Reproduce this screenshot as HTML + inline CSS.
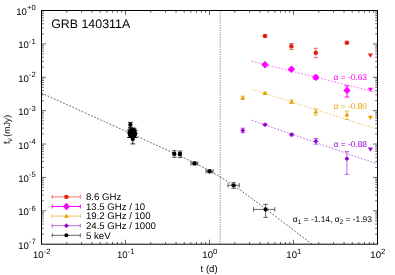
<!DOCTYPE html>
<html><head><meta charset="utf-8"><title>GRB 140311A</title>
<style>html,body{margin:0;padding:0;background:#fff;overflow:hidden}body{width:395px;height:275px;position:relative;font-family:"Liberation Sans",sans-serif}</style>
</head><body>
<svg width="395" height="275" viewBox="0 0 395 275" style="position:absolute;left:0;top:0;will-change:transform;text-rendering:geometricPrecision" font-family="'Liberation Sans', sans-serif">
<rect x="0" y="0" width="395" height="275" fill="#ffffff"/>
<path d="M66.79 244.2v-2.3M66.79 10.5v2.3M81.58 244.2v-2.3M81.58 10.5v2.3M92.07 244.2v-2.3M92.07 10.5v2.3M100.21 244.2v-2.3M100.21 10.5v2.3M106.86 244.2v-2.3M106.86 10.5v2.3M112.49 244.2v-2.3M112.49 10.5v2.3M117.36 244.2v-2.3M117.36 10.5v2.3M121.66 244.2v-2.3M121.66 10.5v2.3M125.50 244.2v-4.5M125.50 10.5v4.5M150.79 244.2v-2.3M150.79 10.5v2.3M165.58 244.2v-2.3M165.58 10.5v2.3M176.07 244.2v-2.3M176.07 10.5v2.3M184.21 244.2v-2.3M184.21 10.5v2.3M190.86 244.2v-2.3M190.86 10.5v2.3M196.49 244.2v-2.3M196.49 10.5v2.3M201.36 244.2v-2.3M201.36 10.5v2.3M205.66 244.2v-2.3M205.66 10.5v2.3M209.50 244.2v-4.5M209.50 10.5v4.5M234.79 244.2v-2.3M234.79 10.5v2.3M249.58 244.2v-2.3M249.58 10.5v2.3M260.07 244.2v-2.3M260.07 10.5v2.3M268.21 244.2v-2.3M268.21 10.5v2.3M274.86 244.2v-2.3M274.86 10.5v2.3M280.49 244.2v-2.3M280.49 10.5v2.3M285.36 244.2v-2.3M285.36 10.5v2.3M289.66 244.2v-2.3M289.66 10.5v2.3M293.50 244.2v-4.5M293.50 10.5v4.5M318.79 244.2v-2.3M318.79 10.5v2.3M333.58 244.2v-2.3M333.58 10.5v2.3M344.07 244.2v-2.3M344.07 10.5v2.3M352.21 244.2v-2.3M352.21 10.5v2.3M358.86 244.2v-2.3M358.86 10.5v2.3M364.49 244.2v-2.3M364.49 10.5v2.3M369.36 244.2v-2.3M369.36 10.5v2.3M373.66 244.2v-2.3M373.66 10.5v2.3M41.5 234.15h2.3M377.5 234.15h-2.3M41.5 228.27h2.3M377.5 228.27h-2.3M41.5 224.10h2.3M377.5 224.10h-2.3M41.5 220.86h2.3M377.5 220.86h-2.3M41.5 218.22h2.3M377.5 218.22h-2.3M41.5 215.99h2.3M377.5 215.99h-2.3M41.5 214.05h2.3M377.5 214.05h-2.3M41.5 212.34h2.3M377.5 212.34h-2.3M41.5 210.81h4.5M377.5 210.81h-4.5M41.5 200.76h2.3M377.5 200.76h-2.3M41.5 194.89h2.3M377.5 194.89h-2.3M41.5 190.71h2.3M377.5 190.71h-2.3M41.5 187.48h2.3M377.5 187.48h-2.3M41.5 184.84h2.3M377.5 184.84h-2.3M41.5 182.60h2.3M377.5 182.60h-2.3M41.5 180.66h2.3M377.5 180.66h-2.3M41.5 178.96h2.3M377.5 178.96h-2.3M41.5 177.43h4.5M377.5 177.43h-4.5M41.5 167.38h2.3M377.5 167.38h-2.3M41.5 161.50h2.3M377.5 161.50h-2.3M41.5 157.33h2.3M377.5 157.33h-2.3M41.5 154.09h2.3M377.5 154.09h-2.3M41.5 151.45h2.3M377.5 151.45h-2.3M41.5 149.21h2.3M377.5 149.21h-2.3M41.5 147.28h2.3M377.5 147.28h-2.3M41.5 145.57h2.3M377.5 145.57h-2.3M41.5 144.04h4.5M377.5 144.04h-4.5M41.5 133.99h2.3M377.5 133.99h-2.3M41.5 128.11h2.3M377.5 128.11h-2.3M41.5 123.94h2.3M377.5 123.94h-2.3M41.5 120.71h2.3M377.5 120.71h-2.3M41.5 118.06h2.3M377.5 118.06h-2.3M41.5 115.83h2.3M377.5 115.83h-2.3M41.5 113.89h2.3M377.5 113.89h-2.3M41.5 112.18h2.3M377.5 112.18h-2.3M41.5 110.66h4.5M377.5 110.66h-4.5M41.5 100.61h2.3M377.5 100.61h-2.3M41.5 94.73h2.3M377.5 94.73h-2.3M41.5 90.56h2.3M377.5 90.56h-2.3M41.5 87.32h2.3M377.5 87.32h-2.3M41.5 84.68h2.3M377.5 84.68h-2.3M41.5 82.44h2.3M377.5 82.44h-2.3M41.5 80.51h2.3M377.5 80.51h-2.3M41.5 78.80h2.3M377.5 78.80h-2.3M41.5 77.27h4.5M377.5 77.27h-4.5M41.5 67.22h2.3M377.5 67.22h-2.3M41.5 61.34h2.3M377.5 61.34h-2.3M41.5 57.17h2.3M377.5 57.17h-2.3M41.5 53.94h2.3M377.5 53.94h-2.3M41.5 51.29h2.3M377.5 51.29h-2.3M41.5 49.06h2.3M377.5 49.06h-2.3M41.5 47.12h2.3M377.5 47.12h-2.3M41.5 45.41h2.3M377.5 45.41h-2.3M41.5 43.89h4.5M377.5 43.89h-4.5M41.5 33.84h2.3M377.5 33.84h-2.3M41.5 27.96h2.3M377.5 27.96h-2.3M41.5 23.79h2.3M377.5 23.79h-2.3M41.5 20.55h2.3M377.5 20.55h-2.3M41.5 17.91h2.3M377.5 17.91h-2.3M41.5 15.67h2.3M377.5 15.67h-2.3M41.5 13.74h2.3M377.5 13.74h-2.3M41.5 12.03h2.3M377.5 12.03h-2.3" stroke="#000" stroke-width="0.6" fill="none"/>
<line x1="220.2" y1="10.5" x2="220.2" y2="244.2" stroke="#000" stroke-width="0.5" stroke-dasharray="1.2 1.2"/>
<path d="M41.50 93.07L42.50 93.52L43.50 93.98L44.50 94.43L45.50 94.88L46.50 95.34L47.50 95.79L48.50 96.24L49.50 96.69L50.50 97.15L51.50 97.60L52.50 98.05L53.50 98.51L54.50 98.96L55.50 99.41L56.50 99.87L57.50 100.32L58.50 100.77L59.50 101.23L60.50 101.68L61.50 102.13L62.50 102.58L63.50 103.04L64.50 103.49L65.50 103.94L66.50 104.40L67.50 104.85L68.50 105.30L69.50 105.76L70.50 106.21L71.50 106.66L72.50 107.12L73.50 107.57L74.50 108.02L75.50 108.48L76.50 108.93L77.50 109.38L78.50 109.83L79.50 110.29L80.50 110.74L81.50 111.19L82.50 111.65L83.50 112.10L84.50 112.55L85.50 113.01L86.50 113.46L87.50 113.91L88.50 114.37L89.50 114.82L90.50 115.27L91.50 115.73L92.50 116.18L93.50 116.63L94.50 117.08L95.50 117.54L96.50 117.99L97.50 118.44L98.50 118.90L99.50 119.35L100.50 119.80L101.50 120.26L102.50 120.71L103.50 121.16L104.50 121.62L105.50 122.07L106.50 122.52L107.50 122.98L108.50 123.43L109.50 123.88L110.50 124.33L111.50 124.79L112.50 125.24L113.50 125.69L114.50 126.15L115.50 126.60L116.50 127.05L117.50 127.51L118.50 127.96L119.50 128.41L120.50 128.87L121.50 129.32L122.50 129.77L123.50 130.23L124.50 130.68L125.50 131.13L126.50 131.59L127.50 132.04L128.50 132.49L129.50 132.95L130.50 133.40L131.50 133.86L132.50 134.31L133.50 134.76L134.50 135.22L135.50 135.67L136.50 136.12L137.50 136.58L138.50 137.03L139.50 137.49L140.50 137.94L141.50 138.39L142.50 138.85L143.50 139.30L144.50 139.76L145.50 140.21L146.50 140.67L147.50 141.12L148.50 141.58L149.50 142.03L150.50 142.49L151.50 142.94L152.50 143.40L153.50 143.85L154.50 144.31L155.50 144.76L156.50 145.22L157.50 145.68L158.50 146.13L159.50 146.59L160.50 147.05L161.50 147.50L162.50 147.96L163.50 148.42L164.50 148.88L165.50 149.34L166.50 149.80L167.50 150.25L168.50 150.71L169.50 151.18L170.50 151.64L171.50 152.10L172.50 152.56L173.50 153.02L174.50 153.49L175.50 153.95L176.50 154.42L177.50 154.88L178.50 155.35L179.50 155.82L180.50 156.29L181.50 156.76L182.50 157.23L183.50 157.70L184.50 158.17L185.50 158.65L186.50 159.13L187.50 159.61L188.50 160.09L189.50 160.57L190.50 161.05L191.50 161.54L192.50 162.03L193.50 162.52L194.50 163.01L195.50 163.50L196.50 164.00L197.50 164.50L198.50 165.01L199.50 165.51L200.50 166.03L201.50 166.54L202.50 167.06L203.50 167.58L204.50 168.10L205.50 168.63L206.50 169.16L207.50 169.70L208.50 170.24L209.50 170.79L210.50 171.34L211.50 171.90L212.50 172.46L213.50 173.03L214.50 173.60L215.50 174.17L216.50 174.76L217.50 175.34L218.50 175.94L219.50 176.54L220.50 177.14L221.50 177.75L222.50 178.37L223.50 178.99L224.50 179.62L225.50 180.25L226.50 180.89L227.50 181.53L228.50 182.18L229.50 182.83L230.50 183.49L231.50 184.15L232.50 184.82L233.50 185.50L234.50 186.17L235.50 186.86L236.50 187.54L237.50 188.23L238.50 188.93L239.50 189.63L240.50 190.33L241.50 191.04L242.50 191.75L243.50 192.46L244.50 193.18L245.50 193.90L246.50 194.62L247.50 195.34L248.50 196.07L249.50 196.80L250.50 197.53L251.50 198.27L252.50 199.00L253.50 199.74L254.50 200.48L255.50 201.22L256.50 201.97L257.50 202.71L258.50 203.46L259.50 204.20L260.50 204.95L261.50 205.70L262.50 206.45L263.50 207.21L264.50 207.96L265.50 208.71L266.50 209.47L267.50 210.22L268.50 210.98L269.50 211.74L270.50 212.50L271.50 213.25L272.50 214.01L273.50 214.77L274.50 215.53L275.50 216.29L276.50 217.06L277.50 217.82L278.50 218.58L279.50 219.34L280.50 220.10L281.50 220.87L282.50 221.63L283.50 222.39L284.50 223.16L285.50 223.92L286.50 224.68L287.50 225.45L288.50 226.21L289.50 226.98L290.50 227.74L291.50 228.51L292.50 229.27L293.50 230.04L294.50 230.80L295.50 231.57L296.50 232.33L297.50 233.10L298.50 233.87L299.50 234.63L300.50 235.40L301.50 236.16L302.50 236.93L303.50 237.70L304.50 238.46L305.50 239.23L306.50 239.99L307.50 240.76L308.50 241.53L309.50 242.29L310.50 243.06L311.50 243.83L311.99 244.20" stroke="#000" stroke-width="0.7" stroke-dasharray="1.7 1.7" fill="none"/>
<line x1="251.80" y1="61.20" x2="377.50" y2="92.67" stroke="#ff00ff" stroke-width="0.6" stroke-dasharray="1.7 1.7"/>
<line x1="251.80" y1="89.30" x2="377.50" y2="129.27" stroke="#e69f00" stroke-width="0.6" stroke-dasharray="1.7 1.7"/>
<line x1="251.80" y1="120.20" x2="377.50" y2="164.16" stroke="#9400d3" stroke-width="0.6" stroke-dasharray="1.7 1.7"/>
<path d="M265.0 35.2V36.8M262.7 35.2h4.6M262.7 36.8h4.6" stroke="#e51e10" stroke-width="0.6" fill="none"/>
<circle cx="265.0" cy="36.0" r="2.2" fill="#e51e10"/>
<path d="M291.4 43.5V49.5M289.09999999999997 43.5h4.6M289.09999999999997 49.5h4.6" stroke="#e51e10" stroke-width="0.6" fill="none"/>
<circle cx="291.4" cy="46.3" r="2.2" fill="#e51e10"/>
<path d="M315.8 48.300000000000004V57.7M313.5 48.300000000000004h4.6M313.5 57.7h4.6" stroke="#e51e10" stroke-width="0.6" fill="none"/>
<circle cx="315.8" cy="52.7" r="2.2" fill="#e51e10"/>
<path d="M346.9 41.800000000000004V43.6M344.59999999999997 41.800000000000004h4.6M344.59999999999997 43.6h4.6" stroke="#e51e10" stroke-width="0.6" fill="none"/>
<circle cx="346.9" cy="42.7" r="2.2" fill="#e51e10"/>
<path d="M370.4 57.8L372.9 53.55L367.9 53.55Z" fill="#e51e10"/>
<path d="M265.0 61.0L268.7 64.7L265.0 68.4L261.3 64.7Z" fill="#ff00ff"/>
<path d="M291.4 65.5L295.09999999999997 69.2L291.4 72.9L287.7 69.2Z" fill="#ff00ff"/>
<path d="M315.8 75.4V79.4M313.5 75.4h4.6M313.5 79.4h4.6" stroke="#ff00ff" stroke-width="1.0" fill="none"/>
<path d="M315.8 73.7L319.5 77.4L315.8 81.10000000000001L312.1 77.4Z" fill="#ff00ff"/>
<path d="M347.0 85.8V97.0M344.7 85.8h4.6M344.7 97.0h4.6" stroke="#ff00ff" stroke-width="1.0" fill="none"/>
<path d="M347.0 86.7L350.7 90.4L347.0 94.10000000000001L343.3 90.4Z" fill="#ff00ff"/>
<path d="M370.4 92.0L372.9 87.75L367.9 87.75Z" fill="#ff00ff"/>
<path d="M242.8 96.2V99.3M240.5 96.2h4.6M240.5 99.3h4.6" stroke="#e69f00" stroke-width="0.6" fill="none"/>
<path d="M242.8 95.3L245.20000000000002 99.38000000000001L240.4 99.38000000000001Z" fill="#e69f00"/>
<path d="M265.1 92.3V94.10000000000001M262.8 92.3h4.6M262.8 94.10000000000001h4.6" stroke="#e69f00" stroke-width="0.6" fill="none"/>
<path d="M265.1 90.8L267.5 94.88000000000001L262.70000000000005 94.88000000000001Z" fill="#e69f00"/>
<path d="M291.6 99.9V103.5M289.3 99.9h4.6M289.3 103.5h4.6" stroke="#e69f00" stroke-width="0.6" fill="none"/>
<path d="M291.6 99.3L294.0 103.38000000000001L289.20000000000005 103.38000000000001Z" fill="#e69f00"/>
<path d="M315.8 108.89999999999999V115.39999999999999M313.5 108.89999999999999h4.6M313.5 115.39999999999999h4.6" stroke="#e69f00" stroke-width="0.6" fill="none"/>
<path d="M315.8 109.39999999999999L318.2 113.48L313.40000000000003 113.48Z" fill="#e69f00"/>
<path d="M346.9 111.0V119.5M344.59999999999997 111.0h4.6M344.59999999999997 119.5h4.6" stroke="#e69f00" stroke-width="0.6" fill="none"/>
<path d="M346.9 112.3L349.29999999999995 116.38000000000001L344.5 116.38000000000001Z" fill="#e69f00"/>
<path d="M370.4 120.0L372.9 115.75L367.9 115.75Z" fill="#e69f00"/>
<path d="M242.8 128.2V132.8M240.5 128.2h4.6M240.5 132.8h4.6" stroke="#9400d3" stroke-width="0.6" fill="none"/>
<path d="M242.8 128.1L245.20000000000002 130.5L242.8 132.9L240.4 130.5Z" fill="#9400d3"/>
<path d="M265.1 123.9V125.5M262.8 123.9h4.6M262.8 125.5h4.6" stroke="#9400d3" stroke-width="0.6" fill="none"/>
<path d="M265.1 122.3L267.5 124.7L265.1 127.10000000000001L262.70000000000005 124.7Z" fill="#9400d3"/>
<path d="M291.6 133.4V135.79999999999998M289.3 133.4h4.6M289.3 135.79999999999998h4.6" stroke="#9400d3" stroke-width="0.6" fill="none"/>
<path d="M291.6 132.2L294.0 134.6L291.6 137.0L289.20000000000005 134.6Z" fill="#9400d3"/>
<path d="M315.9 138.5V144.2M313.59999999999997 138.5h4.6M313.59999999999997 144.2h4.6" stroke="#9400d3" stroke-width="0.6" fill="none"/>
<path d="M315.9 138.79999999999998L318.29999999999995 141.2L315.9 143.6L313.5 141.2Z" fill="#9400d3"/>
<path d="M346.9 151.6V174.39999999999998M344.59999999999997 151.6h4.6M344.59999999999997 174.39999999999998h4.6" stroke="#9400d3" stroke-width="0.6" fill="none"/>
<path d="M346.9 156.29999999999998L349.29999999999995 158.7L346.9 161.1L344.5 158.7Z" fill="#9400d3"/>
<path d="M370.4 151.8L372.9 147.55L367.9 147.55Z" fill="#9400d3"/>
<path d="M130.4 122.39999999999999V127.3M128.1 122.39999999999999h4.6M128.1 127.3h4.6" stroke="#000000" stroke-width="0.85" fill="none"/>
<circle cx="130.4" cy="124.8" r="2.15" fill="#000000"/>
<path d="M130.5 128.2V133.6M128.2 128.2h4.6M128.2 133.6h4.6" stroke="#000000" stroke-width="0.85" fill="none"/>
<circle cx="130.5" cy="130.6" r="2.15" fill="#000000"/>
<path d="M132.3 128.2V133.5M130.0 128.2h4.6M130.0 133.5h4.6" stroke="#000000" stroke-width="0.85" fill="none"/>
<circle cx="132.3" cy="130.5" r="2.15" fill="#000000"/>
<path d="M134.2 128.2V133.6M131.89999999999998 128.2h4.6M131.89999999999998 133.6h4.6" stroke="#000000" stroke-width="0.85" fill="none"/>
<circle cx="134.2" cy="130.6" r="2.15" fill="#000000"/>
<path d="M129.4 130.0V137.5M127.10000000000001 130.0h4.6M127.10000000000001 137.5h4.6" stroke="#000000" stroke-width="0.85" fill="none"/>
<circle cx="129.4" cy="133.0" r="2.15" fill="#000000"/>
<path d="M131.4 130.2V137.5M129.1 130.2h4.6M129.1 137.5h4.6" stroke="#000000" stroke-width="0.85" fill="none"/>
<circle cx="131.4" cy="133.2" r="2.15" fill="#000000"/>
<path d="M133.4 130.0V137.5M131.1 130.0h4.6M131.1 137.5h4.6" stroke="#000000" stroke-width="0.85" fill="none"/>
<circle cx="133.4" cy="133.0" r="2.15" fill="#000000"/>
<path d="M135.3 130.3V137.5M133.0 130.3h4.6M133.0 137.5h4.6" stroke="#000000" stroke-width="0.85" fill="none"/>
<circle cx="135.3" cy="133.3" r="2.15" fill="#000000"/>
<path d="M130.2 132.2V137.5M127.89999999999999 132.2h4.6M127.89999999999999 137.5h4.6" stroke="#000000" stroke-width="0.85" fill="none"/>
<circle cx="130.2" cy="135.2" r="2.15" fill="#000000"/>
<path d="M132.4 132.4V137.5M130.1 132.4h4.6M130.1 137.5h4.6" stroke="#000000" stroke-width="0.85" fill="none"/>
<circle cx="132.4" cy="135.4" r="2.15" fill="#000000"/>
<path d="M134.6 132.2V137.5M132.29999999999998 132.2h4.6M132.29999999999998 137.5h4.6" stroke="#000000" stroke-width="0.85" fill="none"/>
<circle cx="134.6" cy="135.2" r="2.15" fill="#000000"/>
<path d="M132.8 136.1V143.9M130.5 136.1h4.6M130.5 143.9h4.6" stroke="#000000" stroke-width="0.85" fill="none"/>
<circle cx="132.8" cy="139.1" r="2.15" fill="#000000"/>
<path d="M173.10000000000002 153.8H175.5M173.10000000000002 151.5v4.6M175.5 151.5v4.6" stroke="#000000" stroke-width="0.6" fill="none"/>
<path d="M174.3 150.60000000000002V157.4M172.0 150.60000000000002h4.6M172.0 157.4h4.6" stroke="#000000" stroke-width="0.6" fill="none"/>
<circle cx="174.3" cy="153.8" r="2.15" fill="#000000"/>
<path d="M178.8 154.0H181.2M178.8 151.7v4.6M181.2 151.7v4.6" stroke="#000000" stroke-width="0.6" fill="none"/>
<path d="M180.0 151.0V157.6M177.7 151.0h4.6M177.7 157.6h4.6" stroke="#000000" stroke-width="0.6" fill="none"/>
<circle cx="180.0" cy="154.0" r="2.15" fill="#000000"/>
<path d="M191.0 163.4H197.8M191.0 161.1v4.6M197.8 161.1v4.6" stroke="#000000" stroke-width="0.6" fill="none"/>
<path d="M194.5 161.9V164.9M192.2 161.9h4.6M192.2 164.9h4.6" stroke="#000000" stroke-width="0.6" fill="none"/>
<circle cx="194.5" cy="163.4" r="2.15" fill="#000000"/>
<path d="M206.0 171.3H213.1M206.0 169.0v4.6M213.1 169.0v4.6" stroke="#000000" stroke-width="0.6" fill="none"/>
<path d="M209.5 169.8V172.8M207.2 169.8h4.6M207.2 172.8h4.6" stroke="#000000" stroke-width="0.6" fill="none"/>
<circle cx="209.5" cy="171.3" r="2.15" fill="#000000"/>
<path d="M227.9 185.3H239.29999999999998M227.9 183.0v4.6M239.29999999999998 183.0v4.6" stroke="#000000" stroke-width="0.6" fill="none"/>
<path d="M233.6 182.60000000000002V188.3M231.29999999999998 182.60000000000002h4.6M231.29999999999998 188.3h4.6" stroke="#000000" stroke-width="0.6" fill="none"/>
<circle cx="233.6" cy="185.3" r="2.15" fill="#000000"/>
<path d="M253.50000000000003 209.4H274.8M253.50000000000003 207.1v4.6M274.8 207.1v4.6" stroke="#000000" stroke-width="0.6" fill="none"/>
<path d="M265.6 204.3V217.4M263.3 204.3h4.6M263.3 217.4h4.6" stroke="#000000" stroke-width="0.6" fill="none"/>
<circle cx="265.6" cy="209.4" r="2.15" fill="#000000"/>
<rect x="41.5" y="10.5" width="336.0" height="233.7" fill="none" stroke="#000" stroke-width="1"/>
<text x="41.8" y="258.2" font-size="9.6" text-anchor="middle" fill="#000">10<tspan font-size="7.7" dy="-4.7">-2</tspan></text>
<text x="125.8" y="258.2" font-size="9.6" text-anchor="middle" fill="#000">10<tspan font-size="7.7" dy="-4.7">-1</tspan></text>
<text x="209.8" y="258.2" font-size="9.6" text-anchor="middle" fill="#000">10<tspan font-size="7.7" dy="-4.7">0</tspan></text>
<text x="293.8" y="258.2" font-size="9.6" text-anchor="middle" fill="#000">10<tspan font-size="7.7" dy="-4.7">1</tspan></text>
<text x="377.8" y="258.2" font-size="9.6" text-anchor="middle" fill="#000">10<tspan font-size="7.7" dy="-4.7">2</tspan></text>
<text x="35.7" y="248.79999999999998" font-size="9.6" text-anchor="end" fill="#000">10<tspan font-size="7.7" dy="-4.7">-7</tspan></text>
<text x="35.7" y="215.41428571428568" font-size="9.6" text-anchor="end" fill="#000">10<tspan font-size="7.7" dy="-4.7">-6</tspan></text>
<text x="35.7" y="182.0285714285714" font-size="9.6" text-anchor="end" fill="#000">10<tspan font-size="7.7" dy="-4.7">-5</tspan></text>
<text x="35.7" y="148.64285714285714" font-size="9.6" text-anchor="end" fill="#000">10<tspan font-size="7.7" dy="-4.7">-4</tspan></text>
<text x="35.7" y="115.25714285714284" font-size="9.6" text-anchor="end" fill="#000">10<tspan font-size="7.7" dy="-4.7">-3</tspan></text>
<text x="35.7" y="81.87142857142854" font-size="9.6" text-anchor="end" fill="#000">10<tspan font-size="7.7" dy="-4.7">-2</tspan></text>
<text x="35.7" y="48.48571428571427" font-size="9.6" text-anchor="end" fill="#000">10<tspan font-size="7.7" dy="-4.7">-1</tspan></text>
<text x="35.7" y="15.1" font-size="9.6" text-anchor="end" fill="#000">10<tspan font-size="7.7" dy="-4.7">+0</tspan></text>
<text x="209.1" y="271.6" font-size="9.6" text-anchor="middle" fill="#000">t (d)</text>
<text transform="translate(9.8 114.8) rotate(-90)" font-size="8.8" text-anchor="end" fill="#000">f<tspan font-size="7.2" dy="2.2" dx="-0.3">&#957;</tspan><tspan dy="-2.2" dx="-1.0"> (mJy)</tspan></text>
<text x="51.2" y="27.9" font-size="12.4" fill="#000">GRB 140311A</text>
<text x="367" y="79.8" font-size="8.4" text-anchor="end" fill="#ff00ff">&#945; = -0.63</text>
<text x="367" y="108.6" font-size="8.4" text-anchor="end" fill="#e69f00">&#945; = -0.80</text>
<text x="367" y="146.8" font-size="8.4" text-anchor="end" fill="#9400d3">&#945; = -0.88</text>
<text x="371.9" y="221.8" font-size="8.4" text-anchor="end" fill="#000">&#945;<tspan font-size="6.7" dy="2">1</tspan><tspan dy="-2"> = -1.14, &#945;</tspan><tspan font-size="6.7" dy="2">2</tspan><tspan dy="-2"> = -1.93</tspan></text>
<path d="M52.2 196.9H80.3M52.2 194.9v4.0M80.3 194.9v4.0" stroke="#e51e10" stroke-width="0.6" fill="none"/>
<circle cx="66.4" cy="196.9" r="2.2" fill="#e51e10"/>
<text x="86.0" y="200.20000000000002" font-size="9.6" fill="#000">8.6 GHz</text>
<path d="M52.2 206.5H80.3M52.2 204.5v4.0M80.3 204.5v4.0" stroke="#ff00ff" stroke-width="1.0" fill="none"/>
<path d="M66.4 202.8L70.10000000000001 206.5L66.4 210.2L62.7 206.5Z" fill="#ff00ff"/>
<text x="86.0" y="209.8" font-size="9.6" fill="#000">13.5 GHz / 10</text>
<path d="M52.2 216.1H80.3M52.2 214.1v4.0M80.3 214.1v4.0" stroke="#e69f00" stroke-width="0.6" fill="none"/>
<path d="M66.4 213.7L68.80000000000001 217.78L64.0 217.78Z" fill="#e69f00"/>
<text x="86.0" y="219.4" font-size="9.6" fill="#000">19.2 GHz / 100</text>
<path d="M52.2 225.7H80.3M52.2 223.7v4.0M80.3 223.7v4.0" stroke="#9400d3" stroke-width="0.6" fill="none"/>
<path d="M66.4 223.29999999999998L68.80000000000001 225.7L66.4 228.1L64.0 225.7Z" fill="#9400d3"/>
<text x="86.0" y="229.0" font-size="9.6" fill="#000">24.5 GHz / 1000</text>
<path d="M52.2 235.3H80.3M52.2 233.3v4.0M80.3 233.3v4.0" stroke="#000000" stroke-width="0.6" fill="none"/>
<circle cx="66.4" cy="235.3" r="2.0" fill="#000000"/>
<text x="86.0" y="238.60000000000002" font-size="9.6" fill="#000">5 keV</text>
</svg>
</body></html>
